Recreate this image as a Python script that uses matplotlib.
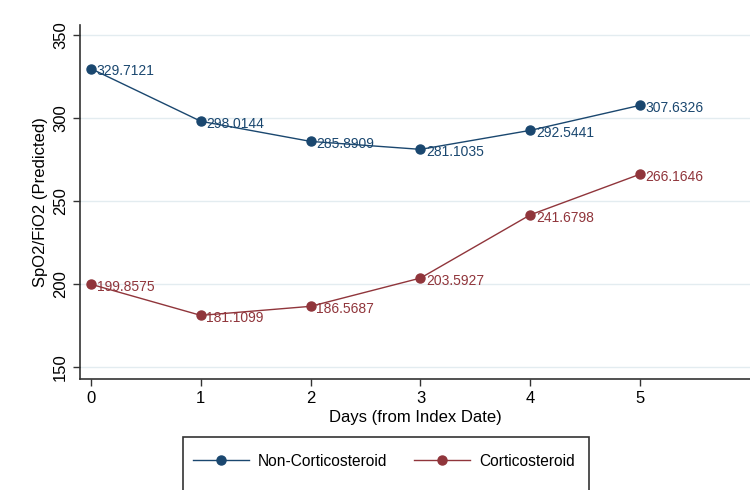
import matplotlib
matplotlib.use("Agg")
import matplotlib.pyplot as plt
from matplotlib.patches import Rectangle
from matplotlib.lines import Line2D

plt.rcParams['font.family'] = ['Liberation Sans', 'DejaVu Sans']

days = [0, 1, 2, 3, 4, 5]
non_cortico = [329.7121, 298.0144, 285.8909, 281.1035, 292.5441, 307.6326]
cortico = [199.8575, 181.1099, 186.5687, 203.5927, 241.6798, 266.1646]
series_names = ["Non-Corticosteroid", "Corticosteroid"]
yticks = [150, 200, 250, 300, 350]

blue = "#1a476f"
red = "#90353b"

fig = plt.figure(figsize=(7.5, 4.9), dpi=100)
ax = fig.add_axes([80/750, 1-379/490, 1-80/750, (379-25)/490])

for vals, col in [(non_cortico, blue), (cortico, red)]:
    ax.plot(days, vals, color=col, lw=1.0, marker='o', ms=6.5, zorder=3)
    for d, v in zip(days, vals):
        ax.annotate(f"{v:.4f}", (d, v), xytext=(4, -2), textcoords='offset points',
                    ha='left', va='center', color=col, fontsize=10)

ax.set_xlim(-0.1, 6.0)
ax.set_ylim(142.8, 356)
ax.set_xticks(days)
ax.set_yticks(yticks)
ax.set_yticklabels([str(t) for t in yticks], rotation=90, va='center')
ax.tick_params(axis='both', labelsize=12, length=5, width=1, color='#333333')
ax.grid(axis='y', color='#e3ecf0', lw=1)
ax.set_axisbelow(True)
for s in ['top', 'right']:
    ax.spines[s].set_visible(False)
for s in ['left', 'bottom']:
    ax.spines[s].set_color('#333333')
    ax.spines[s].set_linewidth(1.2)
ax.set_xlabel("Days (from Index Date)", fontsize=12, labelpad=3)
ax.set_ylabel("SpO2/FiO2 (Predicted)", fontsize=12, va='center')
ax.yaxis.set_label_coords((41 - 80) / 670, 0.5)

# legend box (cropped at bottom)
rect = Rectangle((183/750, -0.2), (589-183)/750, 0.2 + 1-437/490,
                 transform=fig.transFigure, fill=False, edgecolor='#333333', lw=1.2)
fig.patches.append(rect)
handles = [Line2D([0], [0], color=blue, lw=1, marker='o', ms=6.5),
           Line2D([0], [0], color=red, lw=1, marker='o', ms=6.5)]
fig.legend(handles, series_names, loc='center', bbox_to_anchor=(384/750, 1-461/490),
           ncol=2, frameon=False, fontsize=11.2, handlelength=3.6,
           handletextpad=0.55, columnspacing=1.75)

fig.savefig("out.png", dpi=100)
